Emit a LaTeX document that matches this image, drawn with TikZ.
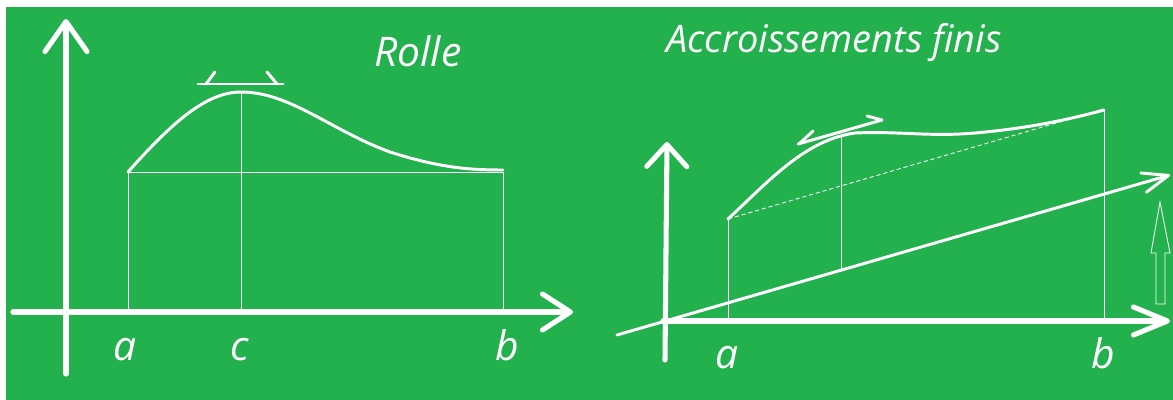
\documentclass[tikz,border=0pt]{standalone}
\usepackage{fontspec}
\setmainfont{Open Sans}
\usetikzlibrary{arrows.meta}
\definecolor{board}{RGB}{34,177,76}

\begin{document}
\begin{tikzpicture}[x=0.025cm,y=-0.025cm,
  axis/.style={white,line width=3.6pt,line cap=round,line join=round},
  curve/.style={white,line width=2.1pt,line cap=round,line join=round},
  fine/.style={white,line width=0.6pt},
  lbl/.style={white,anchor=base,font=\fontsize{29}{32}\selectfont\itshape}]
\useasboundingbox (0,0) rectangle (1173,400);
\fill[board] (6,7) rectangle (1173,400);

% Rolle
\draw[axis,-{Straight Barb[length=0.75cm,width=1.05cm,round]}] (66,374) -- (66,19);
\draw[axis,-{Straight Barb[length=0.7cm,width=0.9cm,round]}] (13,312) -- (573,312);
\draw[fine] (128,312) -- (128,172) -- (503,172) -- (503,312);
\draw[fine] (241,312) -- (241,92);
\draw[curve] (128,172) .. controls (170,125) and (205,92) .. (241,92)
  .. controls (290,92) and (330,130) .. (390,152)
  .. controls (440,168) and (470,170) .. (503,170);
\draw[curve] (198,84) -- (283,84);
\draw[curve] (206,84) -- (215,72);
\draw[curve] (277,84) -- (267,72);
\node[lbl] (la) at (125,360) {a};
\node[lbl] (lc) at (240,360) {c};
\node[lbl] (lb) at (507,360) {b};
\node[lbl] (rolle) at (418,67) {Rolle};

% Accroissements finis
\draw[axis,-{Straight Barb[length=0.55cm,width=1cm,round]}] (665,360) -- (667,142);
\draw[axis,-{Straight Barb[length=0.85cm,width=0.7cm,round]}] (663,321) -- (1170,321);
\draw[curve,-{Straight Barb[length=0.65cm,width=0.5cm,round]}] (617,335) -- (1170,175);
\draw[fine] (728,320) -- (728,219);
\draw[fine] (841,269) -- (841,136);
\draw[fine] (1104,320) -- (1104,110);
\draw[fine,dash pattern=on 3pt off 2pt] (728,219) -- (1104,109);
\draw[curve] (728,219) .. controls (770,180) and (805,140) .. (855,133)
  .. controls (900,131) and (930,137) .. (975,133)
  .. controls (1020,129) and (1060,122) .. (1104,110);
\draw[curve] (798,144) -- (882,120);
\draw[curve] (799,144) -- (813,131);
\draw[curve] (882,120) -- (867,116);
\draw[fine] (1156,304) -- (1156,253) -- (1151,253) -- (1160,202)
  -- (1170,253) -- (1165,253) -- (1165,304) -- cycle;
\node[lbl] (ra) at (727,369) {a};
\node[lbl] (rb) at (1103,368) {b};
\node[lbl,font=\fontsize{27}{30}\selectfont\itshape] (af) at (834,53) {Accroissements finis};
\end{tikzpicture}
\end{document}
